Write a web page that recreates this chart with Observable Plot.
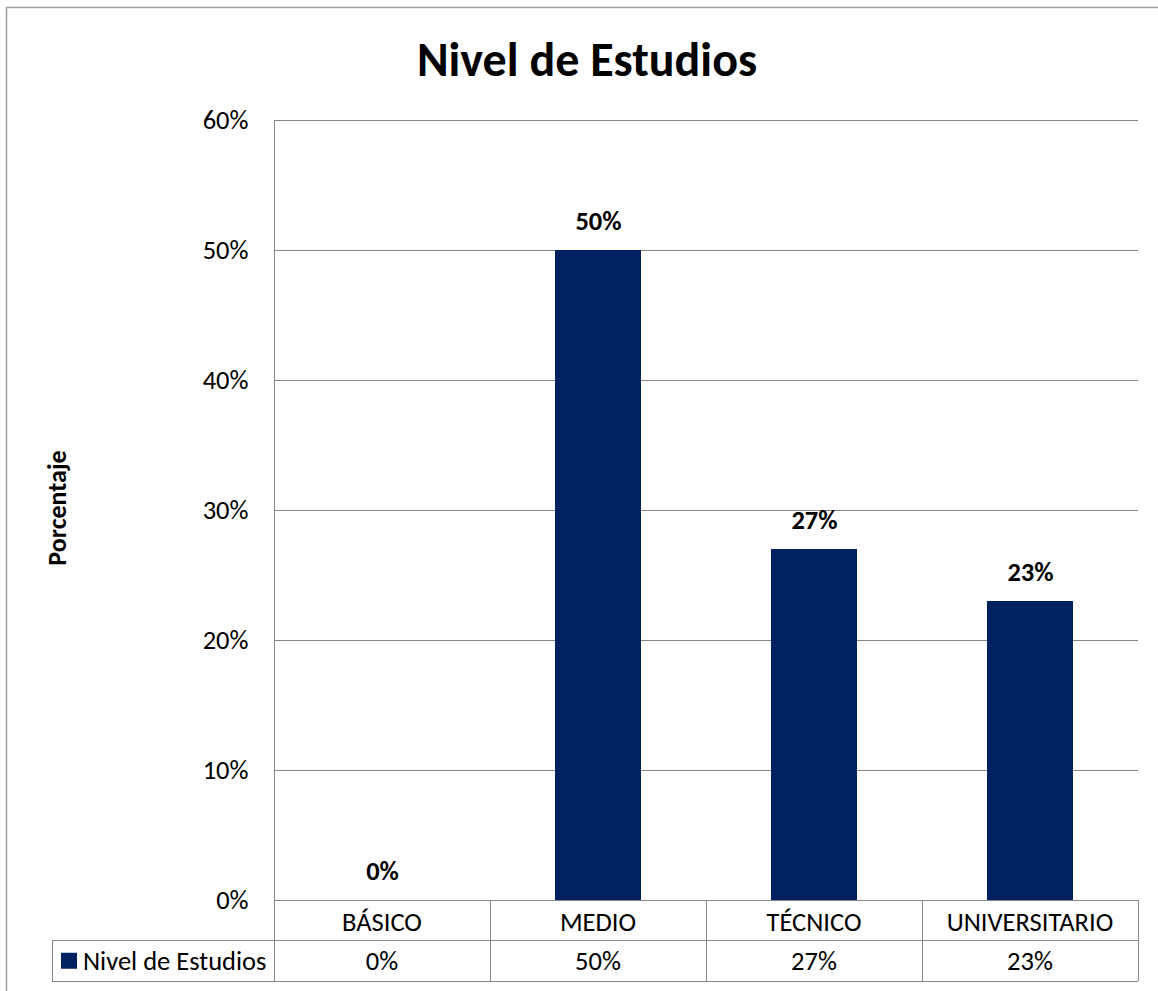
<!DOCTYPE html>
<html>
<head>
<meta charset="utf-8">
<script src="https://cdn.jsdelivr.net/npm/d3@7"></script>
<script src="https://cdn.jsdelivr.net/npm/@observablehq/plot@0.6"></script>
<style>
  html, body { margin: 0; padding: 0; background: #fff; }
  #chart svg { display: block; }
</style>
</head>
<body>
<div id="chart"></div>
<script>
const title = "Nivel de Estudios";
const yLabel = "Porcentaje";
const seriesName = "Nivel de Estudios";
const categories = ["BÁSICO", "MEDIO", "TÉCNICO", "UNIVERSITARIO"];
const values = [0, 50, 27, 23];
const yTicks = [0, 10, 20, 30, 40, 50, 60];

const data = categories.map((c, i) => ({cat: c, val: values[i]}));
const fmt = d => d + "%";
const barColor = "#002060";
const lineColor = "#868686";
const font = "Calibri, Carlito, Lato, sans-serif";
const fs = 26.5;

const chart = Plot.plot({
  width: 1158,
  height: 991,
  marginLeft: 274,
  marginRight: 20,
  marginTop: 120,
  marginBottom: 91,
  style: {fontFamily: font, background: "#fff", color: "#000"},
  x: {domain: categories, padding: 0, axis: null},
  y: {domain: [0, 60], axis: null},
  marks: [
    Plot.gridY(yTicks, {stroke: lineColor, strokeOpacity: 1, strokeWidth: 1}),
    Plot.axisY(yTicks, {tickSize: 0, tickPadding: 26, tickFormat: fmt, fontSize: fs, label: null, fill: "#000"}),
    Plot.barY(data, {x: "cat", y: "val", fill: barColor, insetLeft: 65, insetRight: 65}),
    Plot.text(data, {x: "cat", y: "val", text: d => fmt(d.val), dy: -29, fontSize: fs, fontWeight: "bold", fill: "#000"})
  ]
});

const svg = d3.select(chart);
const xs = chart.scale("x");
const ys = chart.scale("y");
const bw = xs.bandwidth;
const xLeft = xs.apply(categories[0]);
const xRight = xs.apply(categories[categories.length - 1]) + bw;
const y0 = ys.apply(0);
const yTop = ys.apply(60);
const rowH = 40.5;
const legendLeft = 52;

const g = svg.append("g").attr("stroke", lineColor).attr("stroke-width", 1).attr("shape-rendering", "crispEdges");
g.append("line").attr("x1", xLeft).attr("x2", xLeft).attr("y1", yTop).attr("y2", y0 + 2 * rowH);
[1, 2].forEach(r => {
  g.append("line").attr("x1", legendLeft).attr("x2", xRight).attr("y1", y0 + r * rowH).attr("y2", y0 + r * rowH);
});
g.append("line").attr("x1", legendLeft).attr("x2", legendLeft).attr("y1", y0 + rowH).attr("y2", y0 + 2 * rowH);
categories.forEach(c => {
  const xr = xs.apply(c) + bw;
  g.append("line").attr("x1", xr).attr("x2", xr).attr("y1", y0).attr("y2", y0 + 2 * rowH);
});

const t = svg.append("g").attr("font-family", font).attr("font-size", fs).attr("fill", "#000").attr("text-anchor", "middle");
categories.forEach((c, i) => {
  const cx = xs.apply(c) + bw / 2;
  t.append("text").attr("x", cx).attr("y", y0 + rowH / 2 + 1).attr("dy", "0.35em").text(c);
  t.append("text").attr("x", cx).attr("y", y0 + rowH * 1.5).attr("dy", "0.35em").text(fmt(values[i]));
});
// legend
svg.append("rect").attr("x", 61).attr("y", y0 + rowH * 1.5 - 8).attr("width", 16).attr("height", 16).attr("fill", barColor);
svg.append("text").attr("x", 83).attr("y", y0 + rowH * 1.5).attr("dy", "0.35em")
  .attr("text-anchor", "start")
  .attr("font-family", font).attr("font-size", fs).attr("fill", "#000").text(seriesName);

// y axis title
svg.append("text").attr("transform", `translate(57,${(yTop + y0) / 2 - 2}) rotate(-90)`)
  .attr("text-anchor", "middle").attr("dy", "0.35em")
  .attr("font-family", font).attr("font-size", 26).attr("font-weight", "bold").attr("fill", "#000").text(yLabel);

// chart title
svg.append("text").attr("x", 587).attr("y", 59).attr("text-anchor", "middle").attr("dy", "0.35em")
  .attr("font-family", font).attr("font-size", 48).attr("font-weight", "bold").attr("fill", "#000").text(title);

// outer border
svg.append("rect").attr("x", 6.5).attr("y", 7.5).attr("width", 1200).attr("height", 1100)
  .attr("fill", "none").attr("stroke", "#a0a0a0").attr("stroke-width", 1.5);

document.getElementById("chart").appendChild(chart);
</script>
</body>
</html>
